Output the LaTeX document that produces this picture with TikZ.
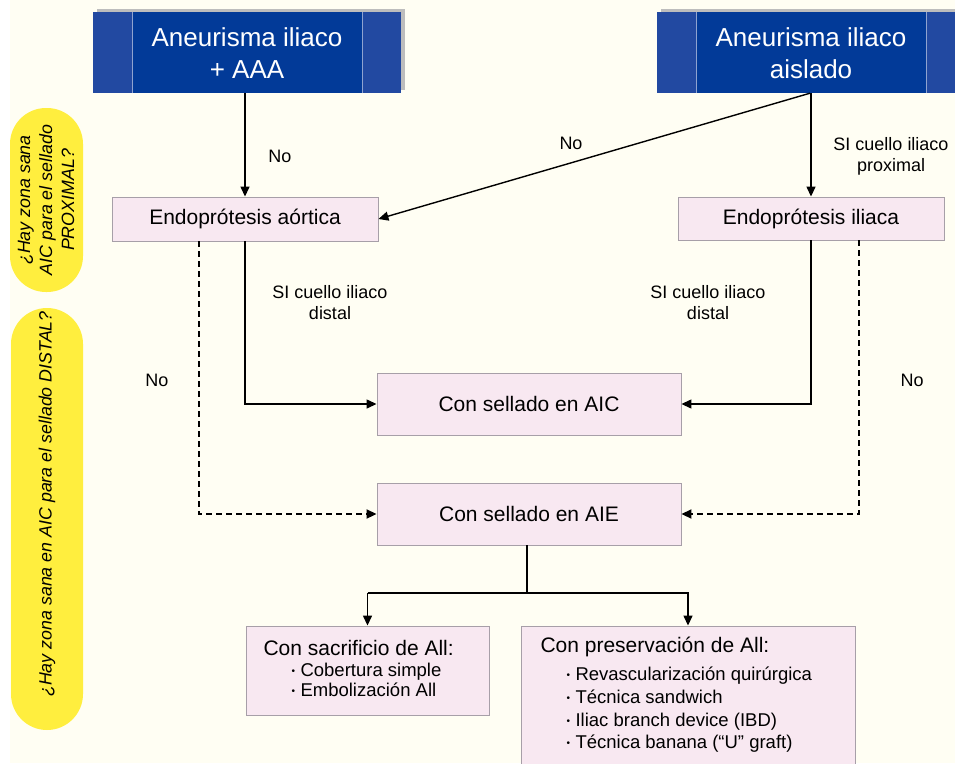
\documentclass[tikz,border=0pt]{standalone}
\usepackage{fontspec}
\setmainfont{Liberation Sans}
\usetikzlibrary{arrows.meta,calc}
\definecolor{bgcream}{HTML}{FFFEF3}
\definecolor{bluemid}{HTML}{023A98}
\definecolor{blueside}{HTML}{2249A1}
\definecolor{bluediv}{HTML}{8FA3D0}
\definecolor{shadowgray}{HTML}{BDBDBD}
\definecolor{pinkfill}{HTML}{F8E8F1}
\definecolor{pinkdraw}{HTML}{A79FA8}
\definecolor{pillyellow}{HTML}{FFEE3E}
\newcommand{\itembul}{\raisebox{1.6pt}{\fontsize{10}{10}\selectfont •}\hspace{5.5pt}}
\tikzset{
  bluebox/.style={rectangle, inner sep=0pt, minimum width=308pt, minimum height=81pt, fill=blueside,
    path picture={
      \fill[bluemid] ([xshift=39pt]path picture bounding box.south west) rectangle ([xshift=-39pt]path picture bounding box.north east);
      \draw[bluediv, line width=0.8pt] ([xshift=39pt]path picture bounding box.south west) -- ([xshift=39pt]path picture bounding box.north west);
      \draw[bluediv, line width=0.8pt] ([xshift=-39pt]path picture bounding box.south east) -- ([xshift=-39pt]path picture bounding box.north east);
    }},
  bluetext/.style={text=white, align=center, font=\fontsize{26}{32}\selectfont},
  pinkbox/.style={rectangle, inner sep=0pt, draw=pinkdraw, line width=0.9pt, fill=pinkfill, font=\fontsize{21}{25}\selectfont},
  pill/.style={rectangle, inner sep=0pt, fill=pillyellow, rounded corners=36pt},
  pilltext/.style={rotate=90, align=center, font=\itshape\fontsize{17.8}{22}\selectfont},
  lbl/.style={align=center, font=\fontsize{18}{21}\selectfont},
  titletext/.style={anchor=base west, font=\fontsize{21}{25}\selectfont},
  itemtext/.style={anchor=base west, font=\fontsize{18.5}{22}\selectfont},
  arr/.style={line width=1.4pt, -{Triangle[length=10pt,width=9pt]}},
  darr/.style={arr, dash pattern=on 6pt off 4pt, line width=1.8pt},
  conn/.style={line width=1.4pt}
}
\begin{document}
\begin{tikzpicture}[x=1pt,y=-1pt]
\useasboundingbox (0,0) rectangle (955,763);
\fill[white] (0,0) rectangle (955,763);
\fill[bgcream] (10,0) rectangle (955,763);

% shadows of blue boxes
\fill[shadowgray] (97,9) rectangle (405,90);
\fill[shadowgray] (661,9) rectangle (969,90);

% blue boxes
\node[bluebox] (b1) at (247,52.5) {};
\node[bluetext] (b1t) at (247,53.5) {Aneurisma iliaco\\+ AAA};
\node[bluebox] (b2) at (811,52.5) {};
\node[bluetext] (b2t) at (811,53.5) {Aneurisma iliaco\\aislado};

% yellow pills
\node[pill, minimum width=73pt, minimum height=184pt] (p1) at (46.5,200) {};
\node[pilltext] (p1t) at (46,200) {¿Hay zona sana\\AIC para el sellado\\PROXIMAL?};
\node[pill, minimum width=72pt, minimum height=422pt] (p2) at (47,519) {};
\node[pilltext] (p2t) at (47,504) {¿Hay zona sana en AIC para el sellado DISTAL?};

% pink boxes
\node[pinkbox, minimum width=266pt, minimum height=44pt] (aor) at (245,219) {Endoprótesis aórtica};
\node[pinkbox, minimum width=266pt, minimum height=43pt] (ili) at (811,218.5) {Endoprótesis iliaca};
\node[pinkbox, minimum width=304pt, minimum height=62pt] (aic) at (529,404) {Con sellado en AIC};
\node[pinkbox, minimum width=304pt, minimum height=62pt] (aie) at (529,514) {Con sellado en AIE};
\node[pinkbox, minimum width=243pt, minimum height=89pt] (sac) at (367.5,670.5) {};
\node[pinkbox, minimum width=334pt, minimum height=150pt] (pre) at (688,701) {};

% bottom box texts
\node[titletext] (sact) at (260,655) {Con sacrificio de All:};
\node[itemtext] (saci1) at (288,676) {\itembul Cobertura simple};
\node[itemtext] (saci2) at (288,696) {\itembul Embolización All};
\node[titletext] (pret) at (537,652) {Con preservación de All:};
\node[itemtext] (prei1) at (563,680) {\itembul Revascularización quirúrgica};
\node[itemtext] (prei2) at (563,703) {\itembul Técnica sandwich};
\node[itemtext] (prei3) at (563,726) {\itembul Iliac branch device (IBD)};
\node[itemtext] (prei4) at (563,748) {\itembul Técnica banana (“U” graft)};

% labels
\node[lbl] (l1) at (280,156) {No};
\node[lbl] (l2) at (571,143) {No};
\node[lbl] (l3) at (891,156) {SI cuello iliaco\\proximal};
\node[lbl] (l4) at (330,303) {SI cuello iliaco\\distal};
\node[lbl] (l5) at (708,303) {SI cuello iliaco\\distal};
\node[lbl] (l6) at (157,380) {No};
\node[lbl] (l7) at (912,380) {No};

% connectors
\draw[arr] (aor.north |- b1.south) -- (aor.north);
\draw[arr] (ili.north |- b2.south) -- (ili.north);
\draw[arr] ([xshift=-1pt]b2.south) -- (aor.east);
\draw[arr] (aor.south) |- (aic.west);
\draw[arr] (ili.south) |- (aic.east);
\draw[darr] ([xshift=-46pt]aor.south) |- (aie.west);
\draw[darr] ([xshift=48pt]ili.south) |- (aie.east);
\coordinate (junc) at (527,593);
\draw[conn] ([xshift=-2pt]aie.south) -- ([xshift=-2pt]aie.south |- junc);
\draw[arr] (sac.north |- junc) -- (sac.north);
\draw[arr] (sac.north |- junc) -- (pre.north |- junc) -- (pre.north);
\end{tikzpicture}
\end{document}
